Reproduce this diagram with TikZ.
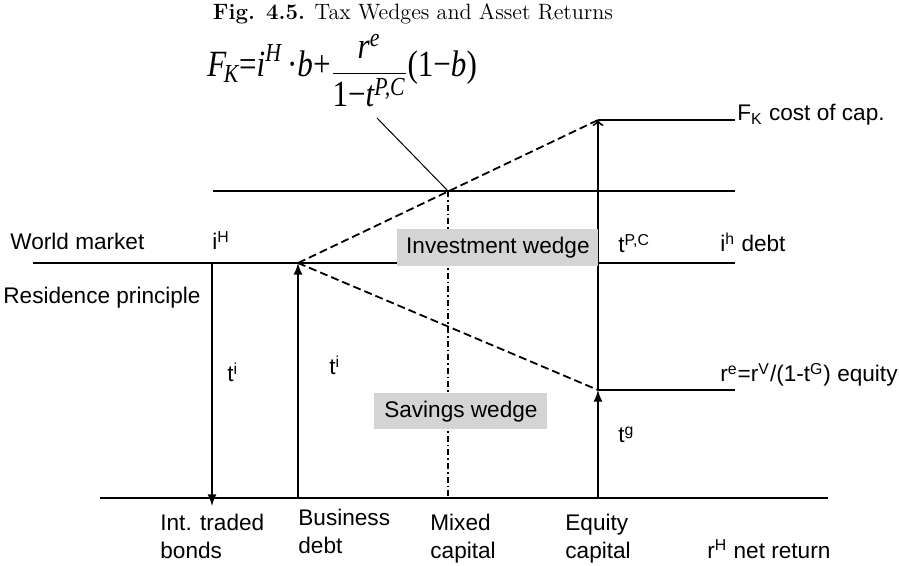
\documentclass[tikz,border=0pt]{standalone}
\usepackage{amsmath}
\usepackage{graphicx}
\usepackage{fontspec}
\newfontfamily\lab{Liberation Sans}
\newfontfamily\tms{Liberation Serif}
\newcommand{\tv}[1]{\text{\tms\itshape #1}}
\newcommand{\tr}[1]{\text{\tms #1}}
\usetikzlibrary{arrows,positioning}

\begin{document}
\begin{tikzpicture}[x=0.5pt, y=-0.5pt,
  every node/.style={font=\lab\fontsize{11.3}{14}\selectfont, inner sep=0pt},
  level/.style={line width=0.8pt},
  bar/.style={line width=1pt},
  wedgebox/.style={fill=black!17, anchor=north west, inner sep=0pt}]
  \useasboundingbox (0,0) rectangle (899,566);

  % Title and cost of capital
  \node[font=\fontsize{11.1}{13}\selectfont, anchor=base] (title) at (413,20) {\textbf{Fig. 4.5.} Tax Wedges and Asset Returns};
  \node[font=\fontsize{18.5}{22}\selectfont, anchor=base west] (fk) at (207,77)
    {\scalebox{0.84}[1]{$\displaystyle \tv{F}_{\kern-1.5pt\tv{K}}\tr{=}\tv{i}^{\tv{H}}\tr{\,·}\tv{b}\tr{+}\raisebox{-2.5pt}{$\displaystyle\frac{\tv{r}^{\tv{e}}}{\tr{1−}\tv{t}^{\tv{P,C}}}$}\tr{(1−}\tv{b}\tr{)}$}};

  % Points
  \coordinate (lead) at (377,118);
  \coordinate (bondTop) at (212,263);
  \coordinate (bondBot) at (212,506);
  \coordinate (debtTop) at (298,263);
  \coordinate (debtBot) at (298,498);
  \coordinate (mixTop) at (448,191);
  \coordinate (mixBot) at (448,498);
  \coordinate (eqTop) at (598,120);
  \coordinate (eqMid) at (598,390);
  \coordinate (eqBot) at (598,498);

  % Levels
  \draw[level] (213,191) coordinate (taxL) -- (735,191) coordinate (taxR);
  \draw[level] (33,263) coordinate (worldL) -- (735,263) coordinate (worldR);
  \draw[level] (eqTop) -- (735,120) coordinate (fkR);
  \draw[level] (eqMid) -- (735,390) coordinate (reR);
  \draw[level] (100,498) coordinate (axL) -- (828,498) coordinate (axR);

  % Wedges
  \draw[line width=0.9pt, dash pattern=on 4pt off 2pt] (debtTop) -- (eqTop);
  \draw[line width=0.9pt, dash pattern=on 4pt off 2pt] (debtTop) -- (eqMid);
  \draw[line width=0.9pt, dash pattern=on 3pt off 1.5pt on 0.8pt off 1.5pt] (mixTop) -- (mixBot);
  \draw[line width=0.5pt] (lead) -- (mixTop);

  % Tax arrows
  \draw[bar, -latex] (bondTop) -- (bondBot);
  \draw[bar, -latex] (debtBot) -- (debtTop);
  \draw[bar, -latex] (eqBot) -- (eqMid);
  \draw[bar, ->] (eqMid) -- (eqTop);

  \node[wedgebox, minimum width=100.5pt, minimum height=18.5pt] (inv) at (397,229) {Investment wedge};
  \node[wedgebox, minimum width=86.5pt, minimum height=18pt] (sav) at (374,393) {Savings wedge};

  % Labels
  \node[anchor=base west] (world) at (10,250) {World market};
  \node[anchor=base west] (iH) at (212,250) {i\textsuperscript{H}};
  \node[anchor=base west] (resid) at (3,304) {Residence principle};
  \node[anchor=base west] (ti1) at (227,382) {t\textsuperscript{i}};
  \node[anchor=base west] (ti2) at (329,375) {t\textsuperscript{i}};
  \node[anchor=base west] (tpc) at (618,253) {t\textsuperscript{P,C}};
  \node[anchor=base west] (ih) at (720,252) {i\textsuperscript{h} debt};
  \node[anchor=base west] (cost) at (737,121) {F\textsubscript{K} cost of cap.};
  \node[anchor=base west] (re) at (720,382) {r\textsuperscript{e}=r\textsuperscript{V}/(1-t\textsuperscript{G}) equity};
  \node[anchor=base west] (tg) at (618,443) {t\textsuperscript{g}};

  % Asset classes
  \node[anchor=base west, align=left] (bonds) at (160,558) {Int. traded\\bonds};
  \node[anchor=base west, align=left] (debt) at (298,553) {Business\\debt};
  \node[anchor=base west, align=left] (mixed) at (430,558) {Mixed\\capital};
  \node[anchor=base west, align=left] (equity) at (565,558) {Equity\\capital};
  \node[anchor=base west] (net) at (707,558) {r\textsuperscript{H} net return};
\end{tikzpicture}
\end{document}
